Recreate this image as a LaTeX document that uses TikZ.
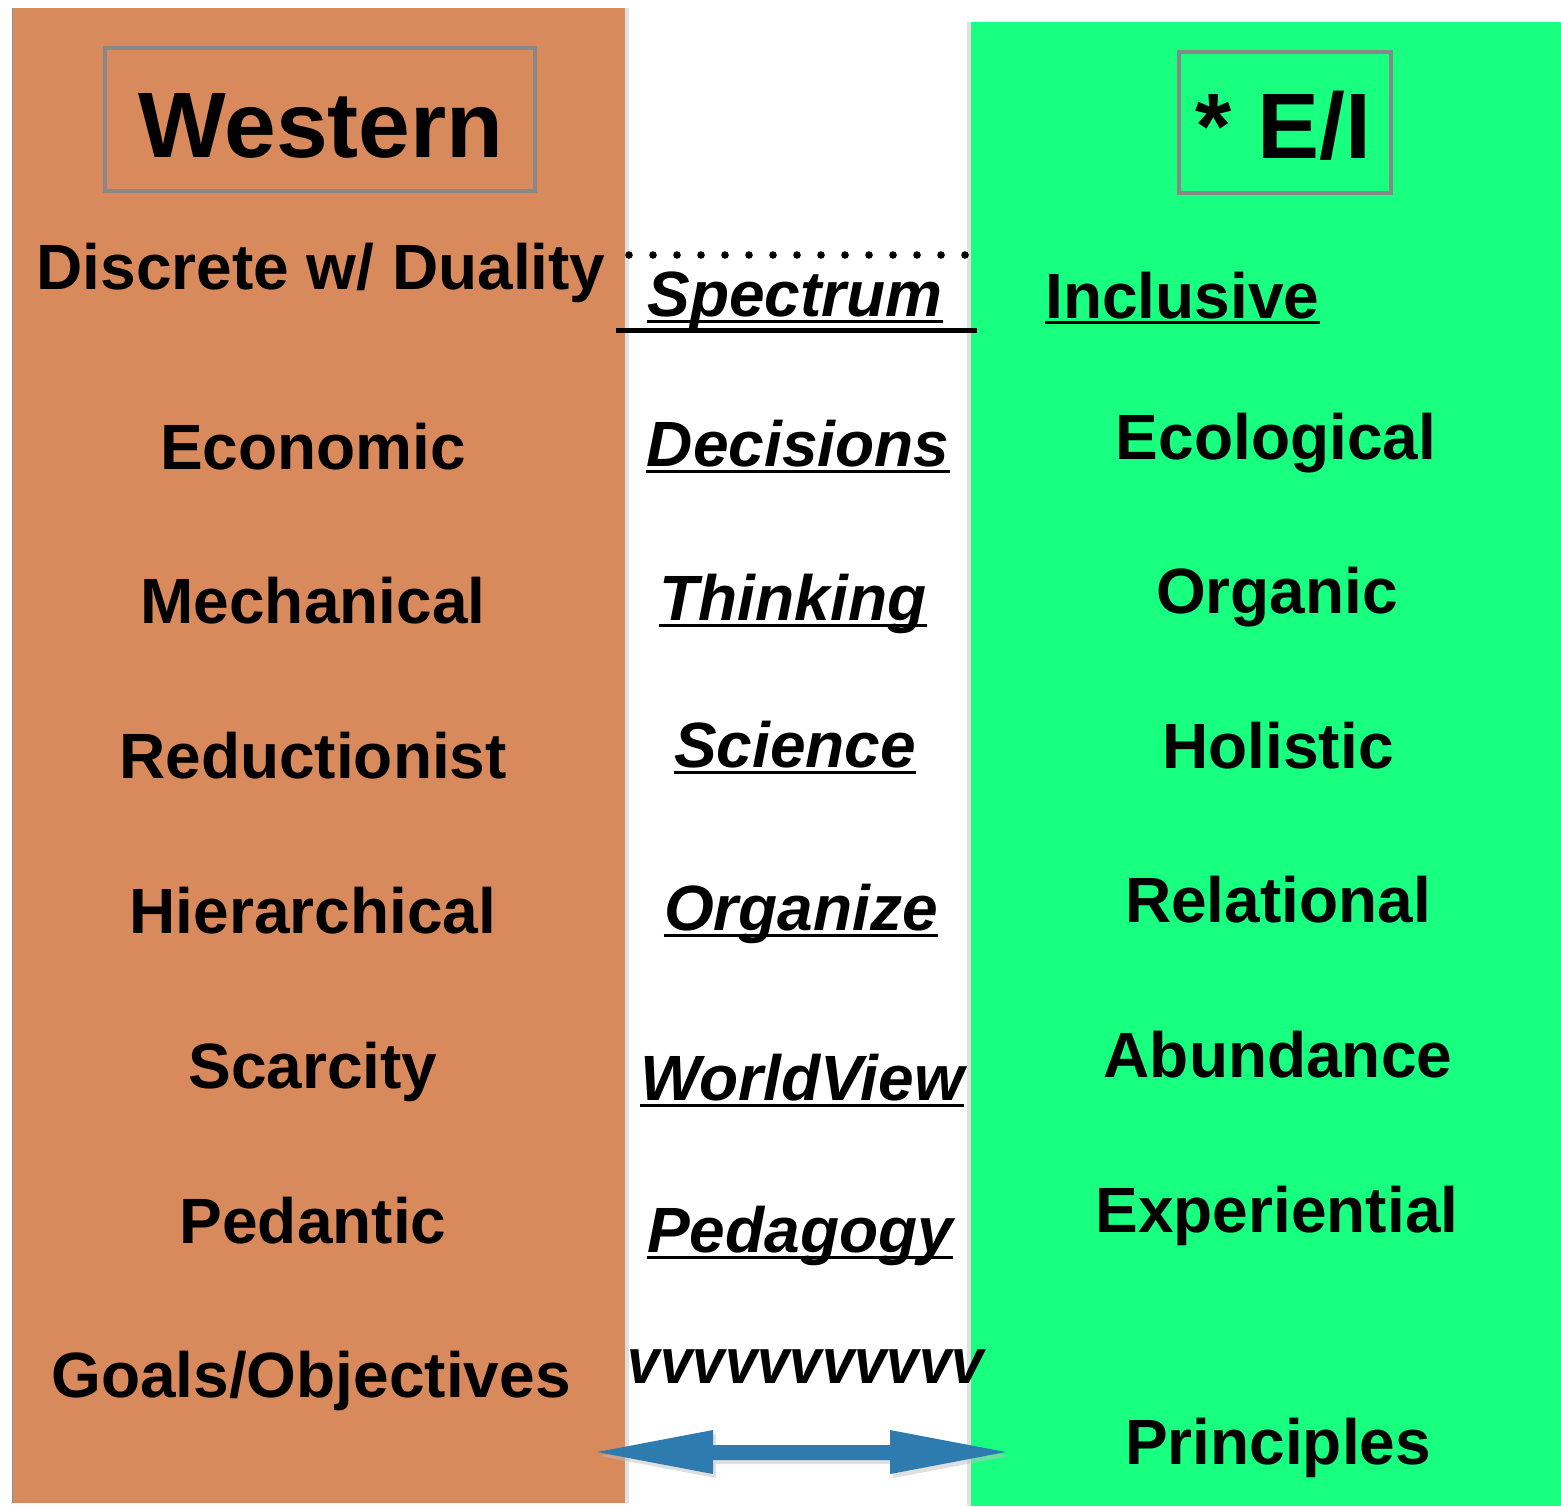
\documentclass[tikz,border=0pt]{standalone}
\usepackage{fontspec}
\setmainfont{Liberation Sans}
\definecolor{westorange}{RGB}{217,138,92}
\definecolor{eigreen}{RGB}{25,255,128}
\definecolor{boxgray}{RGB}{136,136,136}
\definecolor{arrowblue}{RGB}{46,123,176}
\tikzset{
  word/.style={anchor=base,inner sep=0pt,font=\fontsize{32}{38}\selectfont\bfseries},
  midword/.style={word,font=\fontsize{32}{38}\selectfont\bfseries\itshape},
  headword/.style={anchor=base,inner sep=0pt,font=\fontsize{46.5}{54}\selectfont\bfseries},
  headbox/.style={draw=boxgray,line width=2pt},
  uline/.style={line width=1.5pt},
}
\begin{document}
\begin{tikzpicture}[x=0.5pt,y=-0.5pt]
\useasboundingbox (0,0) rectangle (1561,1506);
% panels
\fill[black!12] (625,8) rectangle (629,1503);
\fill[black!12] (967,22) rectangle (971,1506);
\fill[westorange] (12,8) rectangle (625,1503);
\fill[eigreen] (971,22) rectangle (1561,1506);
\draw[black!45,line width=0.5pt] (12.5,8) -- (12.5,1503);
% header boxes
\draw[headbox] (105,48) rectangle (535,191);
\node[headword] (west) at (321,157) {Western};
\draw[headbox] (1179,52) rectangle (1391,193);
\node[headword,anchor=base west] (ei) at (1195,158) {* E/I};
% left column
\node[word] (l1) at (321,289) {Discrete w/ Duality};
\node[word] (l2) at (313,469) {Economic};
\node[word] (l3) at (313,623) {Mechanical};
\node[word] (l4) at (313,778) {Reductionist};
\node[word] (l5) at (313,933) {Hierarchical};
\node[word] (l6) at (313,1088) {Scarcity};
\node[word] (l7) at (313,1243) {Pedantic};
\node[word] (l8) at (311,1397) {Goals/Objectives};
% middle column
\coordinate (dotL) at (629,255);
\coordinate (dotR) at (966,255);
\draw[line width=3.8pt,line cap=round,dash pattern=on 0pt off 12pt] (dotL) -- (dotR);
\node[midword] (m1) at (795,316) {Spectrum};
\node[midword] (m2) at (798,466) {Decisions};
\node[midword] (m3) at (793,620) {Thinking};
\node[midword] (m4) at (795,767) {Science};
\node[midword] (m5) at (801,930) {Organize};
\node[midword] (m6) at (802,1100) {WorldView};
\node[midword] (m7) at (800,1252) {Pedagogy};
\node[midword] (m8) at (806,1383) {\scalebox{0.91}[1]{vvvvvvvvvvv}};
\foreach \n in {m1,m2,m3,m4,m5,m6,m7}{
  \draw[uline] ([yshift=-2.5pt]\n.base west) -- ([yshift=-2.5pt]\n.base east);
}
\coordinate (spL) at (616,330);
\coordinate (spR) at (977,330);
\draw[line width=2.5pt] (spL) -- (spR);
% right column
\node[word,anchor=base west] (r1) at (1045,318) {Inclusive};
\draw[uline] ([yshift=-2pt]r1.base west) -- ([yshift=-2pt]r1.base east);
\node[word] (r2) at (1276,459) {Ecological};
\node[word] (r3) at (1277,613) {Organic};
\node[word] (r4) at (1278,768) {Holistic};
\node[word] (r5) at (1278,922) {Relational};
\node[word] (r6) at (1278,1077) {Abundance};
\node[word] (r7) at (1277,1232) {Experiential};
\node[word] (r8) at (1278,1464) {Principles};
% double arrow
\coordinate (aL) at (597,1452);
\coordinate (aR) at (1006,1452);
\fill[black!25,opacity=0.5] ([shift={(3,4)}]aL) -- ++(116,-22) -- ++(0,15) -- ++(177,0) -- ++(0,-15) -- ++(116,22) -- ++(-116,22) -- ++(0,-14) -- ++(-177,0) -- ++(0,14) -- cycle;
\fill[arrowblue] (aL) -- ++(116,-22) -- ++(0,15) -- ++(177,0) -- ++(0,-15) -- (aR) -- ++(-116,22) -- ++(0,-14) -- ++(-177,0) -- ++(0,14) -- cycle;
\end{tikzpicture}
\end{document}
